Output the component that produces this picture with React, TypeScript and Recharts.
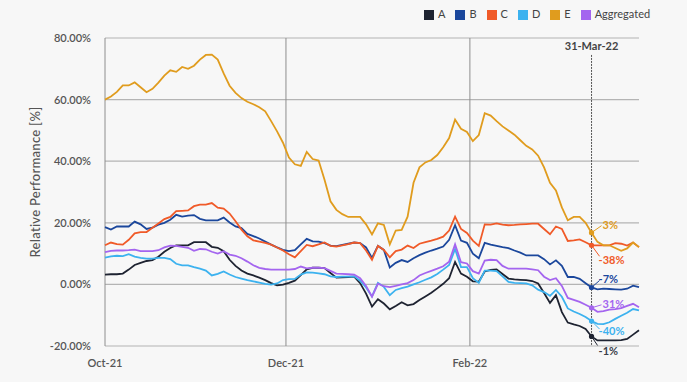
import React from 'react';
import {
  LineChart,
  Line,
  XAxis,
  YAxis,
  CartesianGrid,
  ReferenceLine,
  ReferenceDot,
  Legend,
  Label,
} from 'recharts';

// x positions are day offsets from 1 Oct 2021
const days = [
  0, 2, 4, 6, 8, 10, 12, 14, 16, 18,
  20, 22, 24, 26, 28, 30, 32, 34, 36, 38,
  40, 42, 44, 46, 48, 50, 52, 54, 56, 58,
  60, 62, 64, 66, 68, 70, 72, 74, 76, 78,
  80, 82, 84, 86, 88, 90, 92, 94, 96, 98,
  100, 102, 104, 106, 108, 110, 112, 114, 116, 118,
  120, 122, 124, 126, 128, 130, 132, 134, 136, 138,
  140, 142, 144, 146, 148, 150, 152, 154, 156, 158,
  160, 162, 164, 166, 168, 170, 172, 174, 176, 178,
  180,
];

const seriesA = [
  3.2, 3.3, 3.3, 3.5, 4.8, 6.3, 7, 7.6, 7.9, 9,
  10.6, 11.8, 12.7, 12.7, 12.7, 13.7, 13.7, 13.7, 12.2, 11.9,
  10.8, 8, 6, 4.5, 3.5, 2.9, 2.2, 1.4, 0.4, -0.3,
  -0.1, 0.5, 1.2, 3, 4.9, 5.4, 5.4, 5.3, 3.7, 2.2,
  2.3, 2.4, 2.5, 0.4, -3, -7.2, -4.8, -6.2, -8.1, -7,
  -5.8, -6.8, -6.4, -5.1, -3.9, -2.7, -1.3, 0.2, 2, 7.3,
  3.5, 2.5, 1, 0.9, 4.2, 4.7, 4.9, 3.4, 1.9, 1.6,
  1.5, 1.4, 1.1, 0.3, -2.8, -6, -3.5, -9, -12.4, -13,
  -13.5, -14.5, -16.9, -18.2, -18.2, -18.2, -18.2, -18.1, -17.7, -16.3,
  -14.9,
];

const seriesB = [
  18.6, 17.8, 18.8, 18.8, 18.8, 20.4, 19.5, 18, 18.4, 19.4,
  20, 21, 22.6, 22, 22.3, 22.5, 21.3, 20.8, 20.8, 20.8,
  21.7, 20.1, 18.8, 18.3, 16.4, 15.7, 14.9, 13.9, 12.9, 12,
  11.2, 10.8, 11.1, 13, 14.8, 14, 13.9, 13.4, 12.6, 12.4,
  12.8, 13.2, 13.6, 13.4, 12, 8.6, 12.5, 11.2, 5.5, 7,
  7.9, 7.3, 8.5, 9.5, 10.3, 11, 11.6, 12.3, 14.5, 19.2,
  14.2, 13.5, 10, 8.5, 13.5, 12.9, 12.5, 12.1, 11.8, 11,
  10.3, 9.4, 9.4, 9.4, 8.2, 6.5, 7.8, 6, 2.4, 2.4,
  1.8, 0.4, -1, -1.6, -1.4, -1.5, -1.6, -1.7, -1.4, -0.4,
  -0.9,
];

const seriesC = [
  12.7, 13.6, 13.1, 12.9, 14.5, 16.6, 17, 17, 18.4, 19.8,
  21.2, 21.9, 23.8, 23.9, 24, 25.4, 25.9, 25.9, 26.4, 24.9,
  24.6, 23, 20.5, 17.8, 15.6, 14.3, 13.9, 13.5, 12.9, 12,
  11, 9.8, 8.8, 10.8, 12.8, 12.4, 13, 13.6, 12.5, 12.3,
  12.7, 13.1, 13.6, 13.4, 11, 8, 12.5, 11.2, 8.8, 10.8,
  11.3, 12.6, 11.8, 13.2, 13.7, 14.2, 14.8, 15.5, 17.5, 22,
  18, 16.7, 14.2, 12.5, 19.5, 19.4, 19.8, 19.4, 19.2, 19.3,
  19.5, 19.6, 19.7, 19.7, 18, 16.3, 18.8, 18, 14.1, 14.3,
  14.6, 13.7, 12.7, 12.7, 12.7, 12.7, 13.4, 13.2, 12.6, 13.6,
  12.1,
];

const seriesD = [
  8.7, 9.1, 9.3, 9.2, 9.8, 9, 8.6, 8.4, 8.4, 8.6,
  8.6, 8.2, 6.7, 6.2, 6.2, 5.6, 5.1, 4.5, 2.9, 3.4,
  4.2, 3.2, 2.4, 1.9, 1.4, 1, 0.6, 0.2, -0.1, 0.3,
  1.4, 1.7, 1.8, 3.2, 3.9, 3.8, 3.6, 3.3, 2.6, 2.4,
  2.5, 2.5, 2.6, 1.2, -1, -3.9, 0.5, -0.8, -3.5, -1.8,
  -1.2, -0.7, 0, 0.7, 1.5, 2.3, 3.4, 4.8, 6.3, 11.5,
  5.6, 5.6, 2, 0.5, 4.5, 4.5, 4.3, 2.6, 0.8, 0.5,
  0.4, 0.3, -0.3, -1.7, -2.5, -3.7, -1.8, -4, -7.8, -8.8,
  -9.6, -10.6, -11.9, -12.8, -12.9, -12.3, -11.2, -10.2, -9.2, -8,
  -8.4,
];

const seriesE = [
  60, 61, 62.5, 64.6, 64.6, 65.6, 64, 62.4, 63.5, 65.5,
  67.8, 69.5, 69, 70.6, 70, 71, 73, 74.5, 74.6, 73,
  68.5, 64.5, 62.2, 60.5, 59.3, 58.5, 57.5, 56.2, 53, 49.7,
  46, 41.2, 39, 38.5, 43, 40.7, 40.2, 34, 27, 24.2,
  22.8, 21.9, 21.9, 21.9, 19.5, 16.2, 19.8, 19.3, 13, 17.5,
  17.7, 22, 33, 38, 39.6, 40.4, 42, 44.5, 47.5, 53.5,
  50.5, 49.5, 46.5, 48.5, 55.6, 54.8, 53, 51.3, 50, 48.6,
  46.8, 45, 43.8, 41.8, 38, 33, 30.5, 25, 20.8, 21.9,
  21.9, 20, 16.8, 13.8, 12.7, 12.7, 11.8, 10.9, 11.7, 13.6,
  12.1,
];

const seriesAggregated = [
  10.5, 10.9, 11, 11, 11.1, 11.3, 10.8, 10.8, 10.8, 11.1,
  12, 12.6, 12.5, 12.2, 11.9, 10.9, 11.5, 11.4, 10.6, 10,
  10.8, 9.7, 9.3, 8.5, 7.4, 6.2, 5.4, 5, 4.8, 4.8,
  4.8, 4.8, 5, 5.8, 5.2, 5.4, 5.4, 5.3, 4.4, 3.5,
  3.4, 3.3, 3.2, 2, -0.5, -4, 0.2, -0.6, -0.9, -0.5,
  0, 0.4, 1.4, 2.9, 3.7, 4.4, 5.1, 5.9, 7.4, 13,
  7.2, 6.8, 4.3, 3.5, 7.7, 8, 7.9, 6, 5.1, 5.1,
  5.1, 5.1, 4.9, 4.6, 2.5, 1.4, 2, -0.5, -4.4, -5,
  -5.7, -6.6, -7.6, -8.9, -8.7, -8.2, -8, -7.7, -7, -6.3,
  -7.4,
];

const seriesNames = ['A', 'B', 'C', 'D', 'E', 'Aggregated'];
const seriesValues = [seriesA, seriesB, seriesC, seriesD, seriesE, seriesAggregated];
const seriesColors = ['#1e2331', '#1b479c', '#f05a28', '#3cb2ef', '#e09c1e', '#a465ef'];

const xTickDays = [0, 61, 123];
const xTickLabels = ['Oct-21', 'Dec-21', 'Feb-22'];
const yTicks = [-20, 0, 20, 40, 60, 80];

const markerDay = 164;
const markerLabel = '31-Mar-22';
const annotationSeries = ['E', 'C', 'B', 'Aggregated', 'D', 'A'];
const annotationTexts = ['3%', '-38%', '-7%', '31%', '-40%', '-1%'];

// label placement relative to the dot (px)
const annotationOffsets: Record<string, { lx: number; ly: number; tx: number; ty: number }> = {
  E: { lx: 10, ly: -7, tx: 11, ty: -8 },
  C: { lx: 8, ly: 11, tx: 7, ty: 14 },
  B: { lx: 8, ly: -7, tx: 7, ty: -9 },
  Aggregated: { lx: 10, ly: -3, tx: 11, ty: -4 },
  D: { lx: 8, ly: 8, tx: 7, ty: 9 },
  A: { lx: 6, ly: 9, tx: 7, ty: 14 },
};

const labelColors: Record<string, string> = {
  E: '#e09c1e',
  C: '#f05a28',
  B: '#1b479c',
  Aggregated: '#a465ef',
  D: '#3cb2ef',
  A: '#3a3f4a',
};

const FONT = 'Lato, "Open Sans", sans-serif';

const chartData = days.map((d, i) => {
  const row: Record<string, number> = { day: d };
  seriesNames.forEach((name, s) => {
    row[name] = seriesValues[s][i];
  });
  return row;
});

const markerIndex = days.indexOf(markerDay);

const makeAnnotation = (key: string, text: string) => (props: any) => {
  const { cx, cy } = props;
  const o = annotationOffsets[key];
  const color = seriesColors[seriesNames.indexOf(key)];
  return (
    <g>
      <line x1={cx} y1={cy} x2={cx + o.lx} y2={cy + o.ly} stroke={color} strokeWidth={1} />
      <circle cx={cx} cy={cy} r={2.6} fill={color} />
      <text
        x={cx + o.tx}
        y={cy + o.ty}
        fill={labelColors[key]}
        fontSize={11}
        fontWeight={700}
        fontFamily={FONT}
        dominantBaseline="central"
      >
        {text}
      </text>
    </g>
  );
};

export default function App() {
  return (
    <div
      style={{
        position: 'absolute',
        top: 0,
        left: 0,
        width: 687,
        height: 382,
        background: '#f7f7f7',
        fontFamily: FONT,
      }}
    >
      <LineChart
        width={687}
        height={382}
        data={chartData}
        margin={{ top: 38, right: 48, bottom: 6, left: 0 }}
      >
        <CartesianGrid vertical={false} stroke="#b4b4b4" strokeWidth={1.2} />
        <XAxis
          dataKey="day"
          type="number"
          domain={[0, 180]}
          ticks={xTickDays}
          tickFormatter={(v: number) => xTickLabels[xTickDays.indexOf(v)]}
          axisLine={false}
          tickLine={false}
          tickSize={0}
          tickMargin={13}
          height={30}
          tick={{ fill: '#555', fontSize: 11, fontFamily: FONT, fontWeight: 600 }}
        />
        <YAxis
          domain={[-20, 80]}
          ticks={yTicks}
          tickFormatter={(v: number) => `${v.toFixed(2)}%`}
          axisLine={false}
          tickLine={false}
          tickSize={0}
          tickMargin={14}
          width={105}
          tick={{ fill: '#555', fontSize: 11, fontFamily: FONT, fontWeight: 600 }}
        >
          <Label
            content={() => (
              <text
                x={35}
                y={182}
                transform="rotate(-90, 35, 182)"
                textAnchor="middle"
                dominantBaseline="central"
                fill="#555"
                fontSize={13}
                fontWeight={500}
                fontFamily={FONT}
                letterSpacing={0.3}
              >
                Relative Performance [%]
              </text>
            )}
          />
        </YAxis>
        {xTickDays.map((d) => (
          <ReferenceLine key={d} x={d} stroke="#8e8e8e" strokeWidth={1} />
        ))}
        <Legend
          verticalAlign="middle"
          align="center"
          iconType="square"
          iconSize={10}
          itemSorter={(item: any) => seriesNames.indexOf(item.value)}
          wrapperStyle={{ top: 7, left: 424, right: 'auto', width: 'auto', fontSize: 11, fontFamily: FONT }}
          formatter={(value: string) => <span style={{ color: '#444' }}>{value}</span>}
        />
        {seriesNames.map((name, s) => (
          <Line
            key={name}
            dataKey={name}
            name={name}
            type="linear"
            stroke={seriesColors[s]}
            strokeWidth={1.8}
            dot={false}
            activeDot={false}
            isAnimationActive={false}
          />
        ))}
        <ReferenceLine
          segment={[
            { x: markerDay, y: 74.5 },
            { x: markerDay, y: -20 },
          ]}
          stroke="#555"
          strokeWidth={1}
          strokeDasharray="2 1"
          label={{
            value: markerLabel,
            position: 'top',
            offset: 5,
            fill: '#444',
            fontSize: 11,
            fontWeight: 700,
            fontFamily: FONT,
          }}
        />
        {annotationSeries.map((key, i) => (
          <ReferenceDot
            key={key}
            x={markerDay}
            y={seriesValues[seriesNames.indexOf(key)][markerIndex]}
            r={2.6}
            shape={makeAnnotation(key, annotationTexts[i])}
          />
        ))}
      </LineChart>
    </div>
  );
}
